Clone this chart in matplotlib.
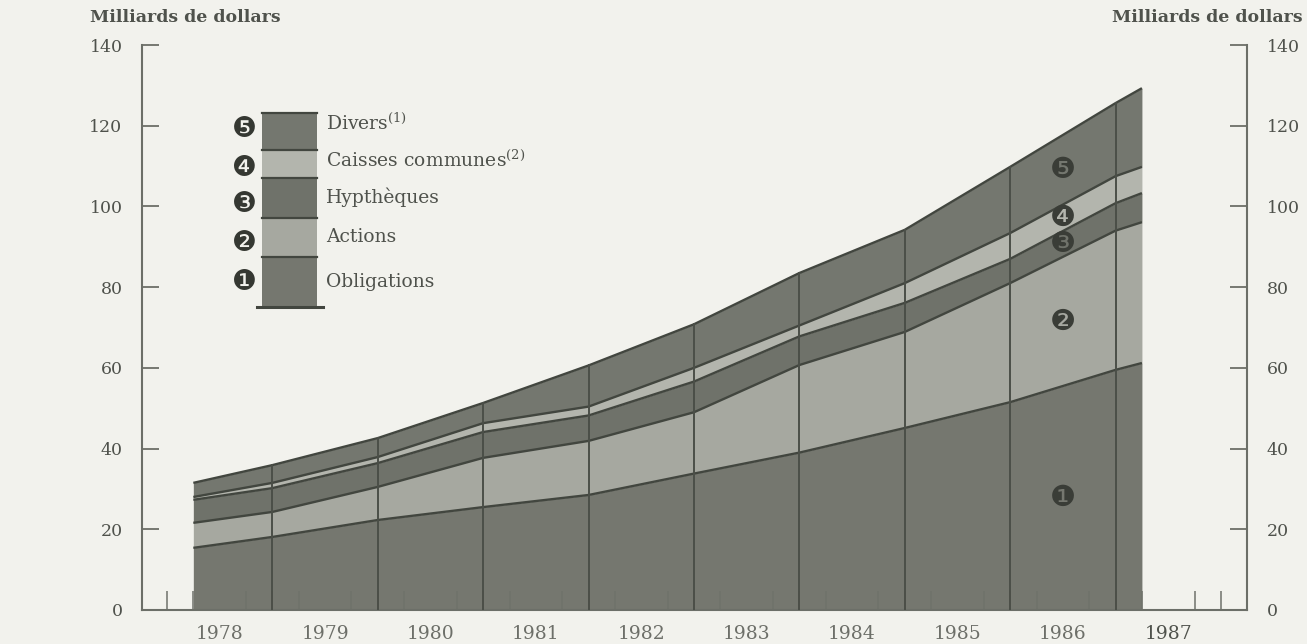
import numpy as np
import matplotlib
matplotlib.use("Agg")
import matplotlib.pyplot as plt
from matplotlib.patches import Rectangle
from matplotlib.lines import Line2D

# Pension fund assets, billions of dollars (end of period)
periods = [1978.25, 1979, 1980, 1981, 1982, 1983, 1984, 1985, 1986, 1987, 1987.25]
obligations = [15.4, 18.1, 22.3, 25.5, 28.5, 33.8, 39.0, 45.1, 51.5, 59.5, 61.2]
actions = [6.2, 6.2, 8.2, 12.2, 13.4, 15.2, 21.7, 23.8, 29.5, 34.5, 34.9]
hypotheques = [5.7, 5.9, 5.9, 6.4, 6.3, 7.6, 7.1, 7.2, 6.0, 6.8, 7.2]
caisses = [0.7, 1.3, 1.5, 2.2, 2.2, 3.4, 2.7, 4.9, 6.4, 6.7, 6.5]
divers = [3.5, 4.4, 4.7, 5.0, 10.2, 10.8, 13.0, 13.2, 16.4, 18.1, 19.5]

series_labels = ["Obligations", "Actions", "Hypthèques",
                 "Caisses communes$^{(2)}$", "Divers$^{(1)}$"]
markers = ["\u2776", "\u2777", "\u2778", "\u2779", "\u277A"]
year_labels = [str(y) for y in range(1978, 1988)]
y_ticks = [0, 20, 40, 60, 80, 100, 120, 140]

fills = ["#75776f", "#a6a8a0", "#6f726a", "#b3b5ad", "#74776f"]
edge = "#42463f"
axis_col = "#6c6f68"
text_col = "#4f524c"
paper = "#f2f2ed"

plt.rcParams["mathtext.fontset"] = "dejavuserif"
serif = ["DejaVu Serif", "DejaVu Sans"]

W, H = 1307, 644
fig = plt.figure(figsize=(W / 100, H / 100), dpi=100, facecolor=paper)
ax = fig.add_axes([142 / W, 1 - 610 / H, (1247 - 142) / W, (610 - 45) / H])
ax.set_facecolor(paper)
ax.set_xlim(1977.763, 1988.247)
ax.set_ylim(0, 140)

x = np.array(periods, dtype=float)
layers = np.array([obligations, actions, hypotheques, caisses, divers], dtype=float)
cum = np.cumsum(layers, axis=0)
lower = np.vstack([np.zeros_like(x), cum[:-1]])

for i in range(len(layers)):
    ax.fill_between(x, lower[i], cum[i], color=fills[i], lw=0, zorder=1)
for i in range(len(layers)):
    ax.plot(x, cum[i], color=edge, lw=1.7, zorder=3, solid_capstyle="butt")

# year separators drawn through the stacked area
total = cum[-1]
for yr in range(1979, 1988):
    ax.plot([yr, yr], [0, np.interp(yr, x, total)], color="#4b4f48", lw=1.4, zorder=3)

# axes frame
ax.spines["top"].set_visible(False)
for side in ["left", "right", "bottom"]:
    ax.spines[side].set_color(axis_col)
    ax.spines[side].set_linewidth(1.5)

ax.set_yticks(y_ticks)
ax.set_yticklabels([str(v) for v in y_ticks])
ax.tick_params(axis="y", which="major", direction="in", length=12, width=1.3,
               color=axis_col, labelsize=12.5, labelcolor=text_col, pad=14,
               left=True, right=True, labelleft=True, labelright=True)
for t in ax.yaxis.get_major_ticks():
    for lab in (t.label1, t.label2):
        lab.set_family(serif)
        lab.set_color(text_col)
        lab.set_fontsize(12.5)

# quarter ticks along the time axis, year labels centred in each year
ax.set_xticks(np.arange(1978, 1988.01, 0.25), minor=True)
ax.set_xticks(np.arange(1978.5, 1988, 1.0))
ax.set_xticklabels(year_labels)
ax.tick_params(axis="x", which="minor", direction="in", length=14, width=1.1,
               color="#6f726b")
ax.tick_params(axis="x", which="major", length=0, pad=11, labelsize=13.5,
               labelcolor="#6d6f69")
for lbl in ax.get_xticklabels():
    lbl.set_family(serif)
ax.get_xticklabels()[-1].set_color(text_col)

# axis titles
fig.text(90 / W, 1 - 17 / H, "Milliards de dollars", family=serif, weight="bold",
         fontsize=12.5, color=text_col, ha="left", va="center")
fig.text(1303 / W, 1 - 17 / H, "Milliards de dollars", family=serif, weight="bold",
         fontsize=12.5, color=text_col, ha="right", va="center")

# numbered markers inside the layers
xm = 1986.5
for i in range(len(layers)):
    ym = (np.interp(xm, x, lower[i]) + np.interp(xm, x, cum[i])) / 2
    ax.text(xm, ym, markers[i], family=["DejaVu Sans"], fontsize=21,
            color="#3a3d37", ha="center", va="center", zorder=5)

# legend column
band_edges = [307, 257, 218, 178, 150, 113]
bx0, bx1 = 262, 317
for i in range(len(layers)):
    y_bot = 1 - band_edges[i] / H
    y_top = 1 - band_edges[i + 1] / H
    fig.add_artist(Rectangle((bx0 / W, y_bot), (bx1 - bx0) / W, y_top - y_bot,
                             transform=fig.transFigure, facecolor=fills[i],
                             edgecolor="none"))
    fig.add_artist(Line2D([bx0 / W, bx1 / W], [y_top, y_top], transform=fig.transFigure,
                          color=edge, lw=1.6))
fig.add_artist(Line2D([257 / W, 323 / W], [1 - 307 / H, 1 - 307 / H],
                      transform=fig.transFigure, color=edge, lw=2.2))

marker_y = [282, 243, 204, 168, 129]
label_y = [282, 237, 197, 160, 123]
for i in range(len(layers)):
    fig.text(244 / W, 1 - marker_y[i] / H, markers[i], family=["DejaVu Sans"],
             fontsize=20, color="#353832", ha="center", va="center")
    fig.text(326 / W, 1 - label_y[i] / H, series_labels[i], family=serif,
             fontsize=13.5, color=text_col, ha="left", va="center")

fig.savefig("out.png", dpi=100, facecolor=paper)
